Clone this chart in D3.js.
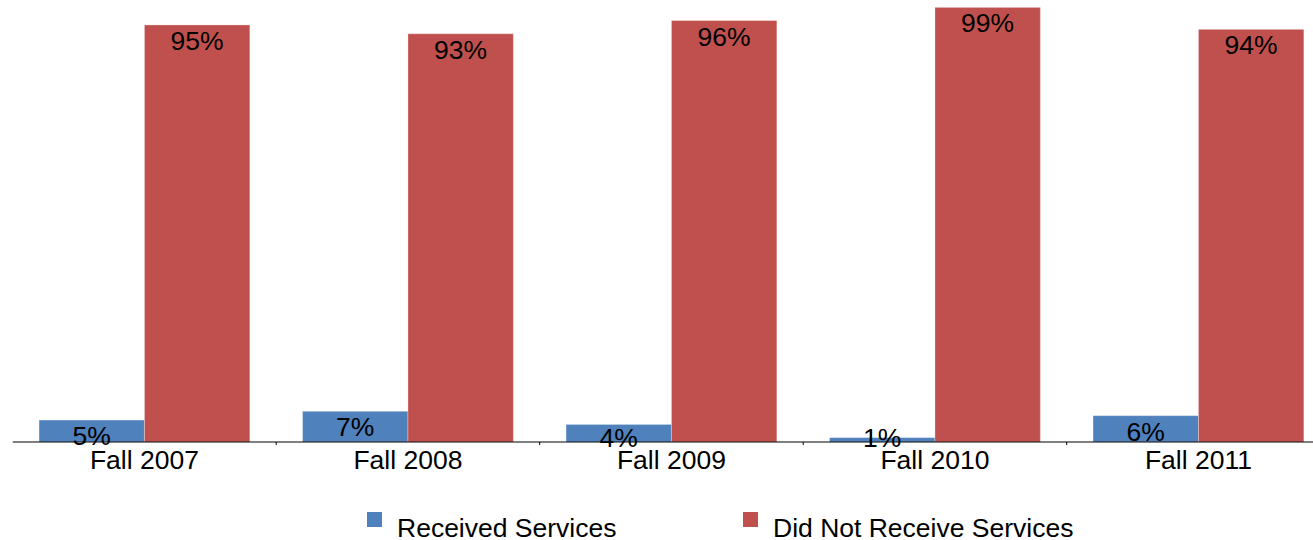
<!DOCTYPE html>
<html>
<head>
<meta charset="utf-8">
<script src="https://cdn.jsdelivr.net/npm/d3@7/dist/d3.min.js"></script>
<style>
  html, body { margin: 0; padding: 0; background: #fff; }
  svg { display: block; }
  text { font-family: "Liberation Sans", Arial, sans-serif; fill: #000; }
</style>
</head>
<body>
<svg id="chart" width="1313" height="540"></svg>
<script>
// Terms and the share of students in each outcome (percent)
const terms = ["Fall 2007", "Fall 2008", "Fall 2009", "Fall 2010", "Fall 2011"];
const seriesNames = ["Received Services", "Did Not Receive Services"];
const received = [5, 7, 4, 1, 6];
const notReceived = [95, 93, 96, 99, 94];
const colors = ["#4F81BD", "#C0504D"];

const svg = d3.select("#chart");
const W = 1313, H = 540;

const baseY = 442;
const left = 12.7, step = 263.5;

const x0 = d3.scaleBand()
  .domain(terms)
  .range([left, left + step * terms.length])
  .padding(0);

const x1 = d3.scaleBand()
  .domain(seriesNames)
  .range([0, x0.bandwidth()])
  .paddingInner(0)
  .paddingOuter(0.25);

const y = d3.scaleLinear().domain([0, 100]).range([baseY, 3]);

const color = d3.scaleOrdinal().domain(seriesNames).range(colors);

const rows = terms.map((t, i) => ({
  term: t,
  values: [
    { key: seriesNames[0], value: received[i] },
    { key: seriesNames[1], value: notReceived[i] }
  ]
}));

const groups = svg.append("g").selectAll("g")
  .data(rows)
  .join("g")
  .attr("transform", d => `translate(${x0(d.term)},0)`);

groups.selectAll("rect")
  .data(d => d.values)
  .join("rect")
  .attr("x", d => x1(d.key))
  .attr("y", d => y(d.value))
  .attr("width", x1.bandwidth())
  .attr("height", d => y(0) - y(d.value))
  .attr("fill", d => color(d.key))
  .attr("stroke", "rgba(255,255,255,0.3)")
  .attr("stroke-width", 1);

// Category axis along the bottom
const axis = svg.append("g").attr("transform", `translate(0,${baseY})`);
axis.append("line")
  .attr("x1", left).attr("x2", W)
  .attr("y1", 0).attr("y2", 0)
  .attr("stroke", "#000").attr("stroke-width", 1);
axis.selectAll("line.tick")
  .data(terms.slice(1))
  .join("line")
  .attr("class", "tick")
  .attr("x1", d => x0(d)).attr("x2", d => x0(d))
  .attr("y1", 0).attr("y2", 3)
  .attr("stroke", "#000").attr("stroke-width", 1);
axis.selectAll("text")
  .data(terms)
  .join("text")
  .attr("x", d => x0(d) + x0.bandwidth() / 2)
  .attr("y", 26.5)
  .attr("text-anchor", "middle")
  .attr("font-size", "26.5px")
  .text(d => d);

// Value labels just inside the top of each bar
groups.selectAll("text.value")
  .data(d => d.values)
  .join("text")
  .attr("class", "value")
  .attr("x", d => x1(d.key) + x1.bandwidth() / 2)
  .attr("y", d => Math.min(y(d.value) + 25, baseY + 5))
  .attr("text-anchor", "middle")
  .attr("font-size", "26.5px")
  .text(d => d.value + "%");

// Legend
const legendX = [367, 743];
const legend = svg.append("g").selectAll("g")
  .data(seriesNames)
  .join("g")
  .attr("transform", (d, i) => `translate(${legendX[i]},512)`);
legend.append("rect")
  .attr("width", 15).attr("height", 15)
  .attr("fill", d => color(d));
legend.append("text")
  .attr("x", 30).attr("y", 25)
  .attr("font-size", "26.5px")
  .text(d => d);
</script>
</body>
</html>
